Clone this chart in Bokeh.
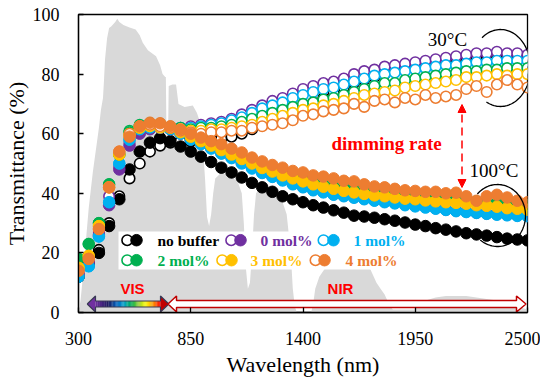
import numpy as np
from bokeh.plotting import figure
from bokeh.models import Range1d, FixedTicker, Arrow, NormalHead
from bokeh.core.properties import value
from bokeh.embed import file_html
from bokeh.resources import INLINE

# ---------------- data ----------------
wl = [300, 350, 400, 450, 500, 550, 600, 650, 700, 750, 800, 850, 900, 950, 1000,
      1050, 1100, 1150, 1200, 1250, 1300, 1350, 1400, 1450, 1500, 1550, 1600, 1650,
      1700, 1750, 1800, 1850, 1900, 1950, 2000, 2050, 2100, 2150, 2200, 2250, 2300,
      2350, 2400, 2450, 2500]

nb_30 = [12, 17, 21, 30, 39, 45, 50, 54, 56, 57, 57.5, 57.5, 58, 58, 58.5, 59, 60, 61.5, 63, 64.5,
         66, 67.5, 69, 70.5, 72, 74, 75.5, 77, 78, 79, 80, 81, 82, 82.5, 83.5, 84, 84.5, 85, 85.5, 86,
         86.5, 86.5, 86.5, 86, 86]
nb_100 = [12, 16, 20, 29, 38, 48, 54, 57, 58.5, 57.5, 55.7, 54, 52.3, 50.5, 48.6, 47, 45.3, 43.5, 42, 40.5,
          39, 38, 37, 36, 35.2, 34.3, 33.5, 32.5, 32.2, 31.8, 31.3, 30.8, 30.2, 29.5, 29, 28.3, 27.8, 27.2,
          26.6, 26.2, 25.8, 25.3, 24.8, 24.5, 24.2]
m0_30 = [13, 17, 27, 39, 49, 57, 61, 62, 62, 62, 62, 62.5, 63, 63.5, 64, 65, 66.5, 68, 69.5, 71,
         72, 73.5, 75, 76, 77, 77.5, 78.5, 80, 81, 81.5, 82.5, 83, 83.5, 84, 84.5, 85, 85.5, 86, 86.5, 87,
         87, 87.5, 87, 87, 86.5]
m0_100 = [13, 17, 26, 36, 48, 56, 60, 61.5, 62, 61.5, 60, 58.3, 56.8, 55.2, 53.5, 52, 50.3, 48.6, 47, 45.7,
          44.5, 43.2, 42.2, 41.2, 40.5, 39.7, 39.2, 38.7, 38.2, 37.7, 37.2, 36.8, 36.3, 35.9, 35.5, 35, 34.5,
          34.2, 33.9, 33.5, 33.2, 33, 32.8, 32.6, 32.5]
m1_30 = [12, 15.5, 25.5, 37, 50, 58, 61.5, 62, 62, 62, 62, 62, 62.5, 63, 63.5, 64.5, 65.5, 67, 68.5, 69.5,
         70.5, 72, 73, 74, 75, 75.5, 76.5, 77.5, 78.5, 79.5, 80, 80.5, 81, 81.5, 82, 82.5, 83, 83, 83.5, 84,
         84, 84.5, 84.5, 84.5, 84.5]
m1_100 = [12, 15.5, 25.5, 37, 50, 58, 61.5, 62.5, 62.5, 61.5, 60, 58, 56.5, 55, 53.3, 51.8, 50, 48.3, 46.8, 45.5,
          44.3, 43, 42, 41, 40.3, 39.5, 39, 38.5, 38, 37.5, 37, 36.6, 36, 35.6, 35.2, 34.8, 34.4, 34, 33.7,
          33.4, 33.1, 32.8, 32.6, 32.4, 32.3]
m2_30 = [18, 23, 30, 43, 53, 61, 63, 63, 62.5, 62, 62, 61.5, 62, 62, 62.5, 63, 64, 65, 66, 67,
         68, 69, 70, 70.5, 71.5, 72, 73, 74, 75, 76, 77, 77, 78, 78.5, 79, 79.5, 80, 80.5, 81, 81,
         81.5, 81.5, 82, 82, 82]
m2_100 = [18, 23, 30, 43, 53, 60.5, 62.5, 63.5, 63.3, 62.3, 61, 59.5, 58, 56.5, 55, 53.5, 52, 50.5, 49, 48,
          46.8, 45.8, 45, 44, 43.2, 42.5, 42, 41.5, 41.2, 40.8, 40.3, 40, 39.7, 39.3, 39, 38.6, 38.3, 38,
          37.7, 37.3, 37, 36.7, 36.5, 36.2, 36]
m3_30 = [15, 19, 29, 42, 53, 60, 62.5, 62.5, 62, 62, 61.5, 61, 61, 61.5, 61.5, 62, 62.5, 63, 64, 65,
         66, 67, 68, 68.5, 69.5, 70, 71, 72, 73, 73.5, 74, 74.5, 75.5, 76, 76.5, 77, 77.5, 78, 79, 79,
         79.5, 80, 79.5, 80, 80]
m3_100 = [15, 19, 29, 42, 53, 59.5, 62, 63, 63, 62, 60.5, 59, 57.5, 56, 54.5, 53, 51.5, 50, 48.5, 47.3,
          46, 45, 44, 43, 42.2, 41.5, 40.8, 40.3, 39.8, 39.3, 39, 38.6, 38.2, 38, 37.6, 37.3, 37, 36.8,
          36.5, 36, 35.8, 35.5, 35, 34.8, 34.5]
m4_30 = [14, 18, 28, 42, 54, 60, 62.5, 63, 62.5, 62, 61, 60.5, 60, 60.5, 60.5, 61, 61, 62, 62.5, 63,
         63.5, 64.5, 66, 66.5, 67.5, 68, 68.5, 70, 69, 71, 71.5, 70.5, 72, 71.5, 73, 72, 72.5, 73, 75, 76,
         74, 76.5, 78, 76.5, 75.5]
m4_100 = [14, 18, 28, 42, 54, 59, 62.5, 63.7, 63.5, 62.5, 61.4, 60, 58.7, 57.5, 56.5, 55, 53.7, 52, 50.7, 49.5,
          48.6, 47.5, 47, 46, 45.6, 45, 44.2, 44, 43, 42.3, 42, 41.5, 41, 40.8, 40.5, 40.5, 40, 40.2, 39,
          37.5, 39, 39.5, 38.6, 37.5, 37]

series_names = ["no buffer", "0 mol%", "1 mol%", "2 mol%", "3 mol%", "4 mol%"]
series_colors = ["#000000", "#7030A0", "#00B0F0", "#00B050", "#FFC000", "#ED7D31"]
series_30 = [nb_30, m0_30, m1_30, m2_30, m3_30, m4_30]
series_100 = [nb_100, m0_100, m1_100, m2_100, m3_100, m4_100]

# solar spectrum (background, scaled)
spec_wl = [300, 310, 320, 330, 340, 350, 360, 370, 380, 390, 400, 410, 420, 425, 430, 440, 450,
           460, 480, 490, 500, 520, 550, 580, 600, 615, 640, 680, 700, 712, 725, 728, 732, 738, 742,
           760, 778, 790, 820, 860, 880, 900, 910, 920, 930, 940, 950, 960, 970, 1000, 1040, 1080,
           1100, 1110, 1120, 1130, 1140, 1150, 1160, 1170, 1200, 1240, 1280, 1300, 1320, 1340, 1350,
           1360, 1370, 1440, 1450, 1460, 1480, 1500, 1520, 1550, 1580, 1620, 1650, 1700, 1720, 1740,
           1760, 1780, 1800, 1820, 1840, 1950, 1960, 1980, 2000, 2050, 2100, 2150, 2200, 2250, 2300,
           2350, 2400, 2450, 2500]
spec_val = [0, 4, 11, 19, 27, 35, 41, 47, 52, 57, 62, 68, 72, 78, 85, 92, 95.5,
            96, 97.5, 98.6, 97.5, 96.5, 95.6, 95, 93, 90.5, 88, 86, 83, 80, 79, 79, 55, 55, 76,
            76.5, 76.5, 70, 69, 69.5, 67, 63, 55, 45, 32, 29, 33, 40, 45, 47, 46, 44,
            40, 30, 15, 8, 10, 20, 33, 40, 43, 42, 39, 37, 33, 20, 8,
            2, 0, 0, 3, 8, 12, 14, 16, 18, 19, 19, 18, 17, 16, 13,
            10, 8, 6, 3, 1, 1, 2, 3, 4, 5, 5.5, 5.5, 5.5, 5, 4.5,
            4, 3, 2, 1]

x_ticks = [300, 850, 1400, 1950, 2500]
y_ticks = [0, 20, 40, 60, 80, 100]

# ---------------- layout ----------------
FL, FT, FW, FH = 70, 7, 449, 298
BR, BB = 13, 55
X0, X1, Y0, Y1 = 300, 2500, 0, 100


def px_x(sx):
    return X0 + (sx - 8 - FL) * (X1 - X0) / FW


def px_y(sy):
    return Y1 - (sy - 8 - FT) * (Y1 - Y0) / FH


SERIF = "'Liberation Serif', 'Times New Roman', serif"
SANS = "'Liberation Sans', Arial, sans-serif"

p = figure(frame_width=FW, frame_height=FH, x_range=Range1d(X0, X1), y_range=Range1d(Y0, Y1),
           output_backend="svg", toolbar_location=None,
           min_border_left=FL, min_border_top=FT + 7,
           min_border_right=BR, min_border_bottom=BB)
p.xgrid.visible = False
p.ygrid.visible = False
p.outline_line_color = "black"
p.outline_line_width = 1.3
p.background_fill_color = "white"
p.border_fill_color = "white"

p.xaxis.ticker = FixedTicker(ticks=x_ticks)
p.yaxis.ticker = FixedTicker(ticks=y_ticks)
for ax in (p.xaxis[0], p.yaxis[0]):
    ax.major_tick_in = 5
    ax.major_tick_out = 0
    ax.minor_tick_in = 0
    ax.minor_tick_out = 0
    ax.axis_line_color = "black"
    ax.axis_line_width = 1.3
    ax.major_tick_line_color = "black"
    ax.major_tick_line_width = 1.3
    ax.major_label_text_font = SERIF
    ax.major_label_text_font_size = "18px"
    ax.major_label_text_color = "black"
    ax.axis_label_text_font = SERIF
    ax.axis_label_text_font_size = "22px"
    ax.axis_label_text_font_style = "normal"
    ax.axis_label_text_color = "black"
p.xaxis.axis_label = "Wavelength (nm)"
p.yaxis.axis_label = "Transmittance (%)"
p.xaxis.major_label_standoff = 19
p.yaxis.major_label_standoff = 19
p.xaxis.axis_label_standoff = 4
p.yaxis.axis_label_standoff = 1

# background solar spectrum
p.varea(x=spec_wl, y1=[0] * len(spec_wl), y2=spec_val, fill_color="#D9D9D9")

# legend background
p.quad(left=[px_x(118)], right=[px_x(410)], top=[px_y(232)], bottom=[px_y(270)],
       fill_color="white", line_color=None)

# data series
for c, s30, s100 in zip(series_colors, series_30, series_100):
    p.scatter(wl, s30, marker="circle", size=10.5, line_color=c, fill_color="white", line_width=1.6)
    p.scatter(wl, s100, marker="circle", size=11.5, line_color=c, fill_color=c, line_width=1)

# legend (custom, two rows)
leg_rows = [240.7, 240.7, 240.7, 260.7, 260.7, 260.7]
leg_open = [126.7, 230.7, 323, 126.7, 221.7, 315]
leg_fill = [136, 240, 333, 136, 231, 324]
leg_text = [157, 260, 353, 157, 250, 345]
for i, (name, c) in enumerate(zip(series_names, series_colors)):
    yy = px_y(leg_rows[i])
    p.scatter([px_x(leg_open[i])], [yy], marker="circle", size=10.5, line_color=c,
              fill_color="white", line_width=1.6)
    p.scatter([px_x(leg_fill[i])], [yy], marker="circle", size=11.5, line_color=c,
              fill_color=c, line_width=1)
    p.text([px_x(leg_text[i])], [yy], text=[name], text_font=value(SERIF), text_font_style="bold",
           text_font_size="15.5px", text_color=c, text_align="left", text_baseline="middle")


# ellipse arcs around 30 / 100 C ends
def arc(cx, cy, rx, ry, a0, a1):
    t = np.radians(np.linspace(a0, a1, 80))
    sx = cx + rx * np.cos(t)
    sy = cy - ry * np.sin(t)
    return [px_x(v) for v in sx], [px_y(v) for v in sy]


ax30, ay30 = arc(500, 68.5, 30, 38.5, 128, -118)
p.line(ax30, ay30, line_color="black", line_width=1.3)
ax100, ay100 = arc(497, 216, 28, 31, 136, -128)
p.line(ax100, ay100, line_color="black", line_width=1.3)

p.text([px_x(447)], [px_y(40)], text=["30°C"], text_font=value(SERIF), text_font_size="19px",
       text_color="black", text_align="center", text_baseline="middle")
p.text([px_x(493.5)], [px_y(170.5)], text=["100°C"], text_font=value(SERIF), text_font_size="19px",
       text_color="black", text_align="center", text_baseline="middle")

# dimming rate
p.text([px_x(331)], [px_y(144)], text=["dimming rate"], text_font=value(SERIF), text_font_style="bold",
       text_font_size="19px", text_color="#FF0000", text_align="left", text_baseline="middle")
p.add_layout(Arrow(x_start=px_x(461.5), y_start=px_y(188), x_end=px_x(461.5), y_end=px_y(105),
                   line_color="#FF0000", line_width=1.5, line_dash="8 5",
                   start=NormalHead(size=8, fill_color="#FF0000", line_color="#FF0000"),
                   end=NormalHead(size=8, fill_color="#FF0000", line_color="#FF0000")))

# VIS arrow (gradient)
stops = [(95, (0x70, 0x30, 0xA0)), (108, (0x1a, 0x1a, 0x5e)), (116, (0x00, 0x60, 0xc0)),
         (123, (0x00, 0xa0, 0xd0)), (131, (0x00, 0xb0, 0x50)), (138, (0x90, 0xd0, 0x30)),
         (145, (0xff, 0xff, 0x00)), (152, (0xff, 0xa0, 0x00)), (160, (0xff, 0x00, 0x00))]
ql, qr, qc = [], [], []
for (xa, ca), (xb, cb) in zip(stops[:-1], stops[1:]):
    n = 6
    for k in range(n):
        f = (k + 0.5) / n
        col = tuple(int(ca[j] + (cb[j] - ca[j]) * f) for j in range(3))
        ql.append(px_x(xa + (xb - xa) * k / n))
        qr.append(px_x(xa + (xb - xa) * (k + 1) / n) + 0.5)
        qc.append("#%02x%02x%02x" % col)
p.quad(left=ql, right=qr, top=[px_y(301.5)] * len(ql), bottom=[px_y(307.5)] * len(ql),
       fill_color=qc, line_color=None)
vis_outline_x = [86.7, 95, 95, 160, 160, 168.3, 160, 160, 95, 95, 86.7]
vis_outline_y = [304.5, 296.5, 301.5, 301.5, 296.5, 304.5, 312.5, 307.5, 307.5, 312.5, 304.5]
p.patch([px_x(v) for v in [86.7, 95, 95]], [px_y(v) for v in [304.5, 296.5, 312.5]],
        fill_color="#7030A0", line_color=None)
p.patch([px_x(v) for v in [168.3, 160, 160]], [px_y(v) for v in [304.5, 296.5, 312.5]],
        fill_color="#C00000", line_color=None)
p.line([px_x(v) for v in vis_outline_x], [px_y(v) for v in vis_outline_y],
       line_color="#3a3a55", line_width=1.2)

# NIR arrow (hollow)
nir_x = [167.5, 176, 176, 516, 516, 525.5, 516, 516, 176, 176, 167.5]
nir_y = [304.5, 296.5, 301, 301, 296.5, 304.5, 312.5, 308, 308, 312.5, 304.5]
p.patch([px_x(v) for v in nir_x], [px_y(v) for v in nir_y], fill_color="white",
        line_color="#C00000", line_width=1.5)

p.text([px_x(132)], [px_y(289)], text=["VIS"], text_font=value(SANS), text_font_style="bold",
       text_font_size="15px", text_color="#FF0000", text_align="center", text_baseline="middle")
p.text([px_x(340)], [px_y(289)], text=["NIR"], text_font=value(SANS), text_font_style="bold",
       text_font_size="15px", text_color="#FF0000", text_align="center", text_baseline="middle")

open("out.html", "w").write(file_html(p, INLINE))
